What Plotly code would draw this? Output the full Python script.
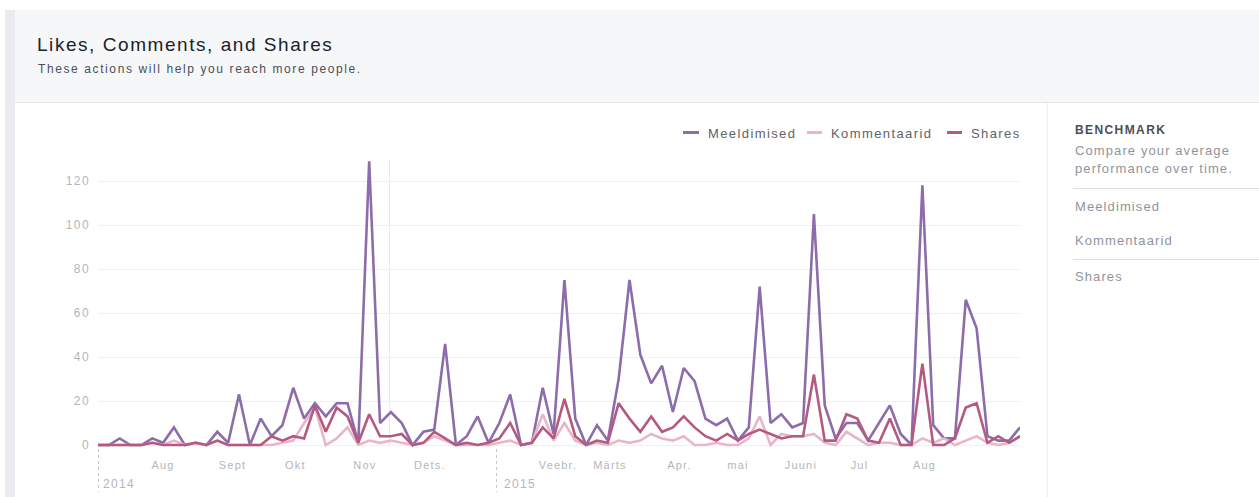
import pandas as pd
import plotly.graph_objects as go

# ---------------- data ----------------
start_date = "2014-07-02"   # first point
step_days = 5               # spacing between points
meeldimised = [0, 0, 3, 0, 0, 3, 1, 8, 0, 1, 0, 6, 1, 23, 0, 12, 4, 9, 26, 12,
               19, 13, 19, 19, 1, 129, 10, 15, 10, 0, 6, 7, 46, 0, 4, 13, 1, 10, 23, 0,
               1, 26, 5, 75, 12, 0, 9, 2, 30, 75, 41, 28, 36, 15, 35, 29, 12, 9, 12, 2,
               8, 72, 10, 14, 8, 10, 105, 18, 3, 10, 10, 2, 10, 18, 5, 0, 118, 9, 3, 3,
               66, 53, 4, 2, 2, 8]
kommentaarid = [0, 0, 0, 0, 0, 1, 0, 2, 0, 1, 0, 2, 0, 0, 0, 0, 0, 1, 2, 10,
                17, 0, 3, 8, 0, 2, 1, 2, 1, 0, 1, 4, 2, 0, 0, 0, 0, 1, 2, 0,
                1, 14, 2, 10, 2, 0, 1, 0, 2, 1, 2, 5, 3, 2, 4, 0, 0, 1, 0, 0,
                3, 13, 0, 5, 4, 4, 5, 1, 0, 6, 3, 0, 1, 1, 0, 0, 3, 1, 3, 0,
                2, 4, 1, 0, 1, 4]
shares = [0, 0, 0, 0, 0, 1, 0, 0, 0, 1, 0, 2, 0, 0, 0, 0, 4, 2, 4, 3,
          18, 6, 17, 13, 1, 14, 4, 4, 5, 0, 1, 6, 3, 0, 1, 0, 1, 3, 10, 0,
          1, 8, 3, 21, 4, 0, 2, 1, 19, 12, 6, 13, 6, 8, 13, 8, 4, 2, 5, 2,
          5, 7, 5, 3, 4, 4, 32, 2, 2, 14, 12, 2, 1, 12, 0, 0, 37, 0, 0, 3,
          17, 19, 1, 4, 1, 4]

series_names = ["Meeldimised", "Kommentaarid", "Shares"]
series_colors = ["#8d6cab", "#e8b6c8", "#b45a80"]

month_labels = ["Aug", "Sept", "Okt", "Nov", "Dets.", "Veebr.", "Märts", "Apr.",
                "mai", "Juuni", "Jul", "Aug"]
month_label_dates = ["2014-08-01", "2014-09-02", "2014-10-01", "2014-11-02", "2014-12-02",
                     "2015-01-30", "2015-02-23", "2015-03-27", "2015-04-23", "2015-05-22",
                     "2015-06-18", "2015-07-18"]
year_labels = ["2014", "2015"]
y_tick_values = [0, 20, 40, 60, 80, 100, 120]

title_text = "Likes, Comments, and Shares"
subtitle_text = "These actions will help you reach more people."
benchmark_lines = ["Compare your average", "performance over time."]

dates = pd.date_range(start_date, periods=len(meeldimised), freq=f"{step_days}D")

# ---------------- layout geometry (pixels) ----------------
W_TOT, H_TOT = 1259, 497
PL, PR, PT, PB = 98, 1020, 150, 452
PW, PH = PR - PL, PB - PT
FONT = "Liberation Sans, Arial, sans-serif"


def px(x):
    return (x - PL) / PW


def py(y):
    return (PB - y) / PH


def sp(text, ls):
    return f'<span style="letter-spacing:{ls}px">{text}</span>'


fig = go.Figure()
for name, vals, col in zip(series_names, [meeldimised, kommentaarid, shares], series_colors):
    fig.add_trace(go.Scatter(x=dates, y=vals, mode="lines", name=name,
                             line=dict(color=col, width=2.6), hoverinfo="skip"))

shapes = []
# left strip and header
shapes.append(dict(type="rect", xref="paper", yref="paper", x0=px(5), x1=px(15), y0=py(H_TOT), y1=py(10),
                   fillcolor="#e9ebee", line=dict(width=0), layer="below"))
shapes.append(dict(type="rect", xref="paper", yref="paper", x0=px(15), x1=px(W_TOT + 5), y0=py(102), y1=py(10),
                   fillcolor="#f6f7f9", line=dict(width=0), layer="below"))
shapes.append(dict(type="line", xref="paper", yref="paper", x0=px(15), x1=px(W_TOT + 5), y0=py(102.5), y1=py(102.5),
                   line=dict(color="#e3e5e8", width=1)))
# right panel divider
shapes.append(dict(type="line", xref="paper", yref="paper", x0=px(1047.5), x1=px(1047.5), y0=py(103), y1=py(H_TOT + 5),
                   line=dict(color="#eceef0", width=1)))
for yy in (188.5, 259.5):
    shapes.append(dict(type="line", xref="paper", yref="paper", x0=px(1073), x1=px(W_TOT + 5), y0=py(yy), y1=py(yy),
                       line=dict(color="#dddfe2", width=1)))
# faint hover line
shapes.append(dict(type="line", xref="paper", yref="paper", x0=px(389.5), x1=px(389.5), y0=py(160), y1=py(445),
                   line=dict(color="#ebebeb", width=1), layer="below"))
# year dotted lines
for xx in (98.5, 496.5):
    shapes.append(dict(type="line", xref="paper", yref="paper", x0=px(xx), x1=px(xx), y0=py(449), y1=py(492),
                       line=dict(color="#c9c9c9", width=1, dash="dot")))
# legend dashes
legend_dash_x = [(683, 699), (807, 822), (947, 962)]
legend_text_x = [706, 829, 969]
for (a, b), col in zip(legend_dash_x, series_colors):
    shapes.append(dict(type="line", xref="paper", yref="paper", x0=px(a), x1=px(b), y0=py(132.5), y1=py(132.5),
                       line=dict(color=col, width=3)))

ann = []
ann.append(dict(text=sp(title_text, 1.55), x=px(35), y=py(45), font=dict(size=19, color="#1d2129")))
ann.append(dict(text=sp(subtitle_text, 1.6), x=px(36), y=py(69), font=dict(size=12, color="#4b4f56")))
for name, xx in zip(series_names, legend_text_x):
    ann.append(dict(text=sp(name, 1.4), x=px(xx), y=py(133), font=dict(size=13, color="#5f6268")))
ann.append(dict(text=sp("<b>BENCHMARK</b>", 1.4), x=px(1073), y=py(130), font=dict(size=12, color="#4b4f56")))
for i, t in enumerate(benchmark_lines):
    ann.append(dict(text=sp(t, 1.1), x=px(1073), y=py(150 + 18 * i), font=dict(size=13, color="#90949c")))
for name, yy in zip(series_names, (206, 240, 276)):
    ann.append(dict(text=sp(name, 1.1), x=px(1073), y=py(yy), font=dict(size=13, color="#90949c")))
for t, xx in zip(year_labels, (101, 502)):
    ann.append(dict(text=sp(t, 1.3), x=px(xx), y=py(484), font=dict(size=12, color="#b3b6ba")))
for a in ann:
    a.update(xref="paper", yref="paper", xanchor="left", yanchor="middle", showarrow=False,
             font=dict(family=FONT, **a["font"]))

fig.update_layout(
    width=W_TOT, height=H_TOT, autosize=False,
    margin=dict(l=PL, r=W_TOT - PR, t=PT, b=H_TOT - PB, pad=0),
    paper_bgcolor="white", plot_bgcolor="white",
    showlegend=False, font=dict(family=FONT),
    shapes=shapes, annotations=ann,
    xaxis=dict(type="date", range=[dates[0], dates[-1]], showgrid=False, zeroline=False,
               showline=False, ticks="", automargin=False,
               tickvals=month_label_dates, ticktext=[sp(m, 1.2) for m in month_labels],
               tickfont=dict(size=11, color="#b3b6ba", family=FONT), ticklabelstandoff=5),
    yaxis=dict(range=[-(PB - 445) / 2.2, -(PB - 445) / 2.2 + PH / 2.2], showgrid=True,
               gridcolor="#f0f0f0", gridwidth=1, zeroline=False, showline=False, ticks="",
               automargin=False, tickvals=y_tick_values,
               ticktext=[sp(str(v), 1.4) for v in y_tick_values],
               tickfont=dict(size=12, color="#b3b6ba", family=FONT), ticklabelstandoff=7),
)

fig.write_html("out.html", config={"displayModeBar": False},
               post_script="document.body.style.margin='0px';document.body.style.overflow='hidden';")
